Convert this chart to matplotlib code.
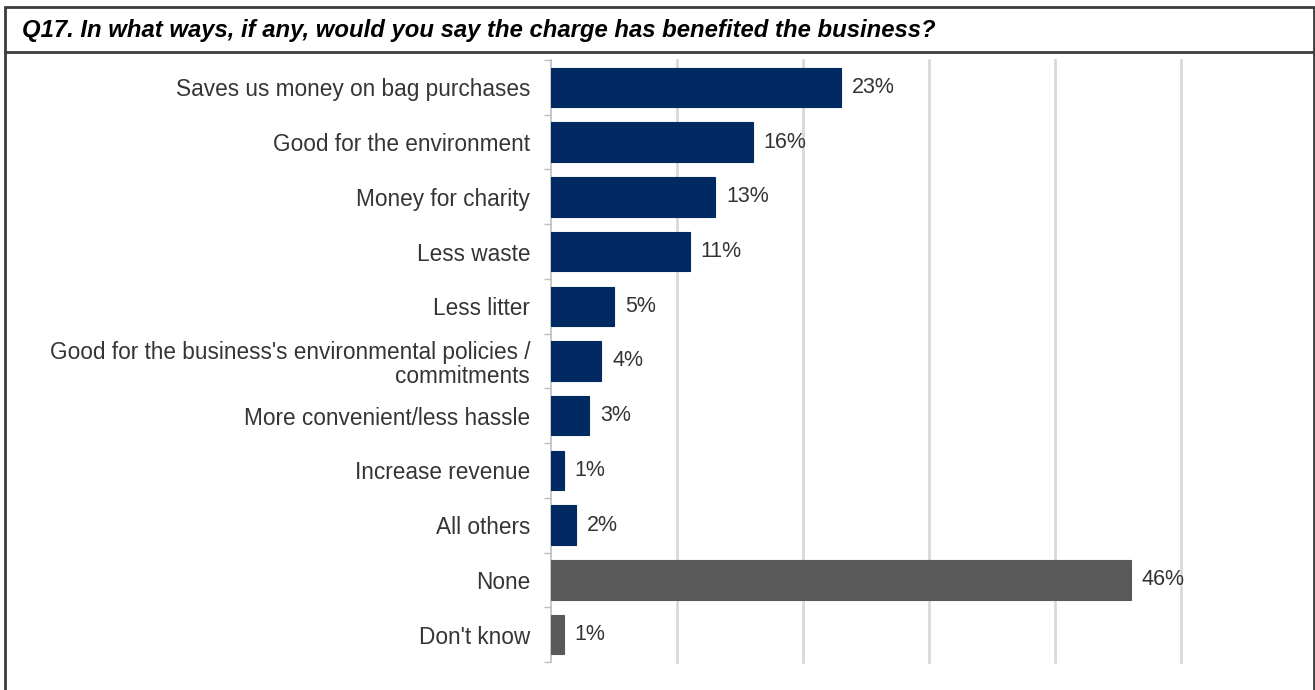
import numpy as np
import matplotlib.pyplot as plt
from matplotlib.patches import Rectangle
from matplotlib.lines import Line2D

plt.rcParams['font.family'] = ['Liberation Sans', 'DejaVu Sans']

categories = [
    'Saves us money on bag purchases',
    'Good for the environment',
    'Money for charity',
    'Less waste',
    'Less litter',
    "Good for the business's environmental policies /\ncommitments",
    'More convenient/less hassle',
    'Increase revenue',
    'All others',
    'None',
    "Don't know",
]
values = [23, 16, 13, 11, 5, 4, 3, 1, 2, 46, 1]
bar_colors = ['#012a62'] * 9 + ['#595959'] * 2
title = 'Q17. In what ways, if any, would you say the charge has benefited the business?'

W, H = 1315, 690
fig = plt.figure(figsize=(W / 100, H / 100), dpi=100)
fig.patch.set_facecolor('white')

# frame around the whole panel + title divider
fig.add_artist(Rectangle((5 / W, -0.05), (1314 - 5) / W, 1.05 - 7 / H,
                         transform=fig.transFigure, fill=False,
                         edgecolor='#3c3c3c', linewidth=2))
fig.add_artist(Line2D([5 / W, 1314 / W], [1 - 52 / H, 1 - 52 / H],
                      transform=fig.transFigure, color='#3c3c3c', linewidth=2))
fig.text(22 / W, 1 - 30 / H, title, fontsize=17.2, fontweight='bold',
         fontstyle='italic', va='center', ha='left', color='black')

ax = fig.add_axes([551 / W, 1 - 662 / H, (1181 - 551) / W, (662 - 60) / H])
y = np.arange(len(categories))
bars = ax.barh(y, values, height=0.72, color=bar_colors,
               edgecolor=[c for c in bar_colors], linewidth=0.8, zorder=3)
ax.set_ylim(len(categories) - 0.5, -0.5)
ax.set_xlim(0, 50)
ax.set_yticks(y)
ax.set_yticklabels(categories, fontsize=16.3, color='#353535', linespacing=1.08)
ax.tick_params(axis='y', which='major', length=0, pad=15)
ax.set_yticks(np.arange(-0.5, len(categories), 1), minor=True)
ax.tick_params(axis='y', which='minor', length=5, color='#bdbdbd', width=1)
ax.set_xticks([10, 20, 30, 40, 50])
ax.tick_params(axis='x', length=0, labelbottom=False)
ax.grid(axis='x', color='#d9d9d9', linewidth=2, zorder=0)
for gl in ax.get_xgridlines():
    gl.set_clip_on(False)
for s in ['top', 'right', 'bottom']:
    ax.spines[s].set_visible(False)
ax.spines['left'].set_color('#bdbdbd')
ax.spines['left'].set_linewidth(1.2)

for b, v in zip(bars, values):
    ax.annotate(f'{v}%', (b.get_width(), b.get_y() + b.get_height() / 2),
                xytext=(8, 0), textcoords='offset points', va='center',
                ha='left', fontsize=15.5, color='#333333')

fig.savefig('out.png', dpi=100, facecolor='white')
